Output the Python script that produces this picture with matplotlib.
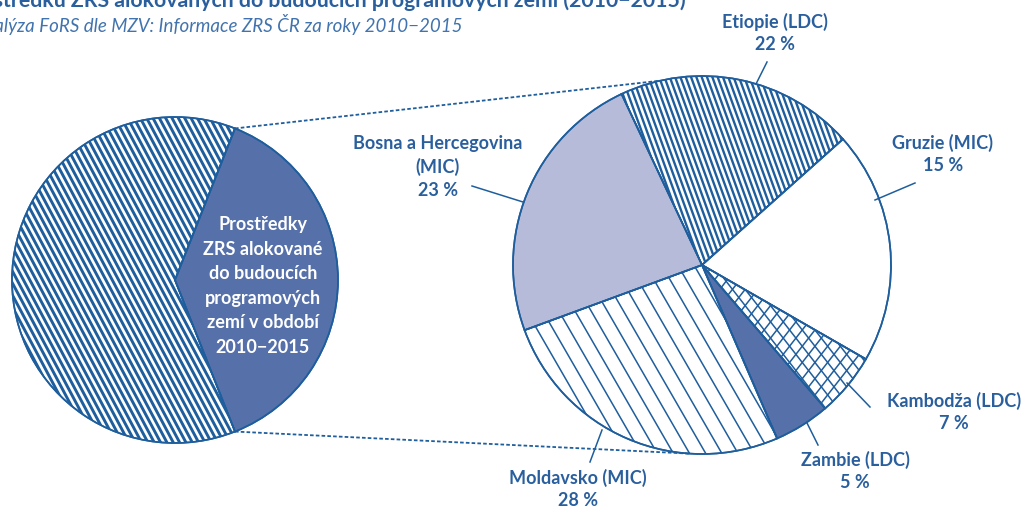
import numpy as np
import matplotlib.pyplot as plt
from matplotlib.patches import Wedge

plt.rcParams['font.family'] = ['Lato', 'DejaVu Sans']

# left pie: all ZRS funds, slice going to the future programme countries
total_parts = ['ostatní', 'budoucí programové země']
total_shares = [62, 38]
inner_text = 'Prostředky\nZRS alokované\ndo budoucích\nprogramových\nzemí v období\n2010−2015'

# right pie: breakdown by country (wedge sizes as drawn, printed labels as printed)
countries = ['Etiopie (LDC)', 'Gruzie (MIC)', 'Kambodža (LDC)', 'Zambie (LDC)',
             'Moldavsko (MIC)', 'Bosna a Hercegovina\n(MIC)']
shares = [20.4, 19.9, 5.4, 4.8, 25.9, 23.6]
pct_labels = ['22 %', '15 %', '7 %', '5 %', '28 %', '23 %']

title = 'Graf 5: Podíl prostředku ZRS alokovaných do budoucích programových zemí (2010−2015)'
source = 'Zdroj: analýza FoRS dle MZV: Informace ZRS ČR za roky 2010−2015'

outline = '#1f5e9d'
text_c = '#2a5f9e'
dark = '#5670a9'
light = '#b5bbd9'

W, H = 1029, 508
fig = plt.figure(figsize=(W / 100, H / 100), dpi=100)
ax = fig.add_axes([0, 0, 1, 1])


def stripes(patch, angle, gap, lw, cross=False):
    cx, cy = patch.center
    r = patch.r
    angles = [angle, 180 - angle] if cross else [angle]
    for a in angles:
        d = np.array([np.cos(np.radians(a)), np.sin(np.radians(a))])
        n = np.array([-d[1], d[0]])
        for k in np.arange(-r, r, gap):
            p = np.array([cx, cy]) + n * k
            s, e = p - d * r * 1.2, p + d * r * 1.2
            ln, = ax.plot([s[0], e[0]], [s[1], e[1]], color=outline, lw=lw,
                          solid_capstyle='butt', zorder=2)
            ln.set_clip_path(patch)


def redraw_edges(wedges):
    for w in wedges:
        ax.add_patch(Wedge(w.center, w.r, w.theta1, w.theta2, fill=False,
                           edgecolor=outline, lw=1.2, zorder=3))


# left pie
lc, lr = (175, 228), 163
lw_, _ = ax.pie(total_shares, colors=['white', dark], center=lc, radius=lr,
                startangle=68.4, counterclock=True,
                wedgeprops=dict(edgecolor=outline, linewidth=1.2))
stripes(lw_[0], 118, 5.6, 2.1)
redraw_edges(lw_)
ax.text(263, 222, inner_text, color='white', fontsize=13, fontweight='bold',
        ha='center', va='center', linespacing=1.53)

# right pie
rc, rr = (702, 243), 189
fills = ['white', 'white', 'white', dark, 'white', light]
rw, _ = ax.pie(shares, colors=fills, center=rc, radius=rr,
               startangle=115.2, counterclock=False,
               wedgeprops=dict(edgecolor=outline, linewidth=1.2))
stripes(rw[0], 110, 5.0, 1.7)
stripes(rw[2], 52, 10, 1.1, cross=True)
stripes(rw[4], 120, 14, 1.1)
redraw_edges(rw)

# dotted connectors between the pies
t1, t2 = np.radians(68.4), np.radians(-68.4)
for a_l, a_r in [(t1, np.radians(102.8)), (t2, np.radians(-93.6))]:
    p = (lc[0] + lr * np.cos(a_l), lc[1] + lr * np.sin(a_l))
    q = (rc[0] + rr * np.cos(a_r), rc[1] + rr * np.sin(a_r))
    ax.plot([p[0], q[0]], [p[1], q[1]], color=outline, lw=1.3,
            linestyle=(0, (2, 1.2)), zorder=1)

# labels with leader lines (image pixel positions, y flipped)
label_pos = [(775, 33), (943, 154), (954, 412), (855, 471), (578, 489), (438, 167)]
leaders = [((767, 62), (756, 84)), ((915, 183), (875, 200)), ((870, 407), (847, 383)),
           ((818, 445), (807, 423)), ((590, 462), (602, 430)), ((472, 186), (523, 202))]
for name, pct, (x, y), (s, e) in zip(countries, pct_labels, label_pos, leaders):
    ax.text(x, H - y, name + '\n' + pct, color=text_c, fontsize=13,
            fontweight='bold', ha='center', va='center', linespacing=1.4)
    ax.plot([s[0], e[0]], [H - s[1], H - e[1]], color=outline, lw=1.1, zorder=1)

ax.text(686, H - 7, title, color=text_c, fontsize=15.3, fontweight='bold',
        ha='right', va='baseline')
ax.text(463, H - 32, source, color='#4174ae', fontsize=13.5, style='italic',
        ha='right', va='baseline')

ax.set_xlim(0, W)
ax.set_ylim(0, H)
ax.axis('off')

fig.savefig('out.png', dpi=100)
